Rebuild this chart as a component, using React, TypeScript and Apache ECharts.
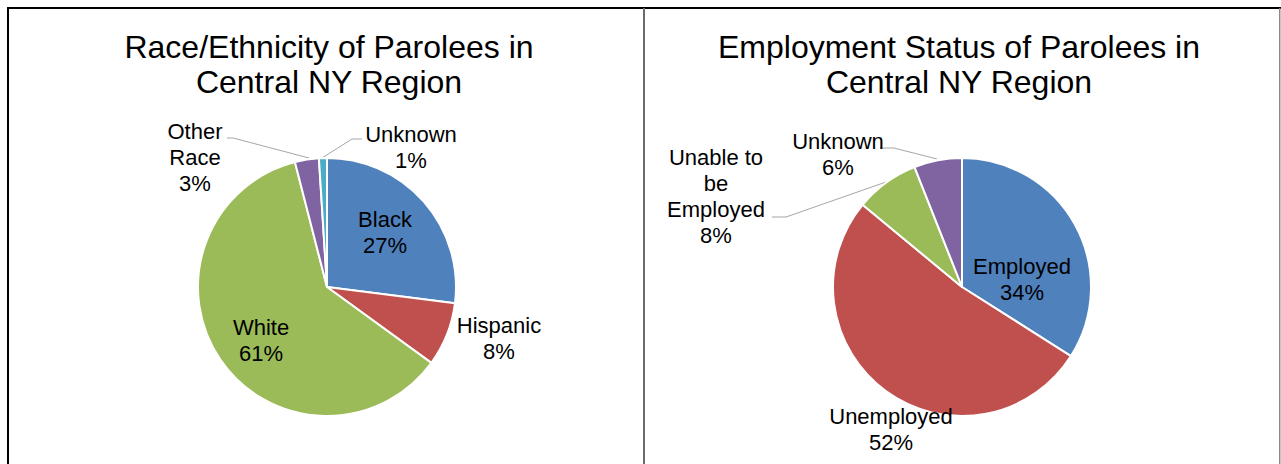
import React, { useEffect, useRef } from 'react';
import * as echarts from 'echarts';

// ---- data ----
const RACE_CATEGORIES = ['Black', 'Hispanic', 'White', 'Other Race', 'Unknown'];
const RACE_LABELS = ['Black', 'Hispanic', 'White', 'Other\nRace', 'Unknown'];
const RACE_VALUES = [27, 8, 61, 3, 1];

const EMP_CATEGORIES = ['Employed', 'Unemployed', 'Unable to be Employed', 'Unknown'];
const EMP_LABELS = ['Employed', 'Unemployed', 'Unable to\nbe\nEmployed', 'Unknown'];
const EMP_VALUES = [34, 52, 8, 6];

const TITLES = [
  'Race/Ethnicity of Parolees in\nCentral NY Region',
  'Employment Status of Parolees in\nCentral NY Region',
];

// ---- layout / style ----
const COLORS = ['#4F81BD', '#C0504D', '#9BBB59', '#8064A2', '#4BACC6'];
const FONT = "'Liberation Sans', Arial, sans-serif";

type Pos = { x: number; y: number; line?: number[][] };

const RACE_LABEL_POS: Pos[] = [
  { x: 385, y: 232 },
  { x: 499, y: 338 },
  { x: 261, y: 340 },
  { x: 195, y: 157, line: [[227, 138], [233, 138], [309, 158]] },
  { x: 411, y: 147, line: [[362, 139], [352, 139], [322, 158]] },
];

const EMP_LABEL_POS: Pos[] = [
  { x: 1022, y: 279 },
  { x: 891, y: 429 },
  { x: 716, y: 196, line: [[772, 217], [786, 217], [886, 182]] },
  { x: 838, y: 154, line: [[880, 148], [894, 148], [937, 159]] },
];

function buildSeries(
  cats: string[],
  labels: string[],
  values: number[],
  pos: Pos[],
  center: number[],
) {
  return {
    type: 'pie',
    center,
    radius: 129,
    startAngle: 90,
    clockwise: true,
    avoidLabelOverlap: false,
    itemStyle: { borderColor: '#ffffff', borderWidth: 2 },
    label: {
      show: true,
      position: 'outside',
      color: '#000000',
      fontFamily: FONT,
      fontSize: 22,
      lineHeight: 26,
      align: 'center',
      formatter: (p: any) => `${labels[p.dataIndex]}\n${Math.round(p.percent)}%`,
    },
    labelLine: { lineStyle: { color: '#a6a6a6', width: 1 } },
    labelLayout: (p: any) => {
      const q = pos[p.dataIndex];
      const r: any = { x: q.x, y: q.y, align: 'center', verticalAlign: 'middle' };
      if (q.line) r.labelLinePoints = q.line;
      return r;
    },
    data: cats.map((c, i) => ({
      name: c,
      value: values[i],
      itemStyle: { color: COLORS[i] },
      labelLine: { show: !!pos[i].line },
    })),
  };
}

export default function App() {
  const ref = useRef<HTMLDivElement>(null);

  useEffect(() => {
    if (!ref.current) return;
    const chart = echarts.init(ref.current, undefined, { renderer: 'svg' });
    const titleStyle = {
      fontFamily: FONT,
      fontSize: 32,
      lineHeight: 35,
      fontWeight: 'normal',
      color: '#000000',
      align: 'center',
    };
    chart.setOption({
      animation: false,
      backgroundColor: '#ffffff',
      title: [
        { text: TITLES[0], left: 329, top: 29, textAlign: 'center', padding: 0, textStyle: titleStyle },
        { text: TITLES[1], left: 959, top: 29, textAlign: 'center', padding: 0, textStyle: titleStyle },
      ],
      graphic: [
        { type: 'rect', shape: { x: 7, y: 7, width: 1274, height: 2 }, style: { fill: '#000000' }, silent: true },
        { type: 'rect', shape: { x: 7, y: 7, width: 2, height: 457 }, style: { fill: '#000000' }, silent: true },
        { type: 'rect', shape: { x: 643, y: 8, width: 2, height: 456 }, style: { fill: '#6b6b6b' }, silent: true },
        { type: 'rect', shape: { x: 1279, y: 8, width: 1.5, height: 456 }, style: { fill: '#8a8a8a' }, silent: true },
      ],
      series: [
        buildSeries(RACE_CATEGORIES, RACE_LABELS, RACE_VALUES, RACE_LABEL_POS, [327, 287]),
        buildSeries(EMP_CATEGORIES, EMP_LABELS, EMP_VALUES, EMP_LABEL_POS, [962, 287]),
      ],
    });
    return () => chart.dispose();
  }, []);

  return (
    <div
      ref={ref}
      style={{ position: 'absolute', left: 0, top: 0, width: 1281, height: 464 }}
    />
  );
}
